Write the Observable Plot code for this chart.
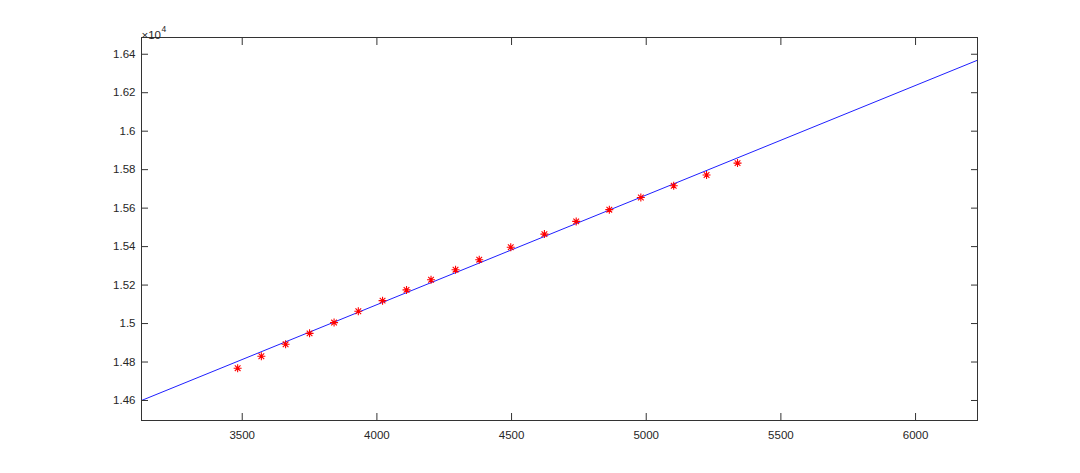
<!DOCTYPE html>
<html>
<head>
<meta charset="utf-8">
<script src="https://cdn.jsdelivr.net/npm/d3@7"></script>
<script src="https://cdn.jsdelivr.net/npm/@observablehq/plot@0.6"></script>
<style>
  html, body { margin: 0; padding: 0; background: #fff; }
  #chart svg { display: block; }
</style>
</head>
<body>
<div id="chart"></div>
<script>
// Measured data points (red asterisks)
const xs = [3483, 3571, 3661, 3750, 3841, 3931, 4021, 4110, 4201, 4292, 4380, 4497, 4622, 4740, 4863, 4980, 5102, 5224, 5339];
const ys = [14768, 14830, 14892, 14949, 15005, 15064, 15119, 15175, 15228, 15280, 15332, 15397, 15465, 15531, 15592, 15655, 15716, 15772, 15834];

// Fitted line end points (blue line)
const fitX = [3126, 6230];
const fitY = [14600, 16369];

// Axis limits and tick values
const xDomain = [3126, 6230];
const yDomain = [14496, 16487];
const xTicks = [3500, 4000, 4500, 5000, 5500, 6000];
const yTicks = [14600, 14800, 15000, 15200, 15400, 15600, 15800, 16000, 16200, 16400];
const yTickLabels = ["1.46", "1.48", "1.5", "1.52", "1.54", "1.56", "1.58", "1.6", "1.62", "1.64"];
const exponentBase = ["×10"];
const exponentPower = ["4"];

const points = xs.map((x, i) => ({x, y: ys[i]}));
const fit = fitX.map((x, i) => ({x, y: fitY[i]}));

// MATLAB-like 8-spoke asterisk
const asterisk = {
  draw(context, size) {
    const r = Math.sqrt(size / Math.PI);
    const d = r * Math.SQRT1_2;
    context.moveTo(-r, 0); context.lineTo(r, 0);
    context.moveTo(0, -r); context.lineTo(0, r);
    context.moveTo(-d, -d); context.lineTo(d, d);
    context.moveTo(-d, d); context.lineTo(d, -d);
  }
};

const axisColor = "#333333";
const textColor = "#262626";
const yFmt = (d) => yTickLabels[yTicks.indexOf(d)];
const xFmt = (d) => String(d);
const T = 7;

const chart = Plot.plot({
  width: 1080,
  height: 473,
  marginLeft: 141,
  marginRight: 103,
  marginTop: 37,
  marginBottom: 53,
  style: {background: "#fff", fontFamily: "'Liberation Sans', Arial, Helvetica, sans-serif", fontSize: "11.5px", color: textColor},
  x: {domain: xDomain},
  y: {domain: yDomain},
  marks: [
    Plot.line(fit, {x: "x", y: "y", stroke: "#1f1fff", strokeWidth: 1, clip: true}),
    Plot.dot(points, {x: "x", y: "y", symbol: asterisk, r: 4, stroke: "#ff0000", strokeWidth: 1.1}),
    // tick labels
    Plot.axisX(xTicks, {anchor: "bottom", tickSize: 0, tickPadding: 10, label: null, tickFormat: xFmt, fill: textColor}),
    Plot.axisY(yTicks, {anchor: "left", tickSize: 0, tickPadding: 6, label: null, tickFormat: yFmt, fill: textColor}),
    // inward ticks on all four sides
    Plot.axisX(xTicks, {anchor: "bottom", tickSize: T, dy: -T, fill: "none", label: null, stroke: axisColor}),
    Plot.axisX(xTicks, {anchor: "top", tickSize: T, dy: T, fill: "none", label: null, stroke: axisColor}),
    Plot.axisY(yTicks, {anchor: "left", tickSize: T, dx: T, fill: "none", label: null, stroke: axisColor}),
    Plot.axisY(yTicks, {anchor: "right", tickSize: T, dx: -T, fill: "none", label: null, stroke: axisColor}),
    Plot.frame({stroke: axisColor, strokeWidth: 1}),
    Plot.text(exponentBase, {text: (d) => d, frameAnchor: "top-left", textAnchor: "start", dx: 0, dy: -7, fontSize: 11.5, fill: textColor}),
    Plot.text(exponentPower, {text: (d) => d, frameAnchor: "top-left", textAnchor: "start", dx: 20, dy: -12, fontSize: 8.5, fill: textColor})
  ]
});

document.getElementById("chart").appendChild(chart);
</script>
</body>
</html>
